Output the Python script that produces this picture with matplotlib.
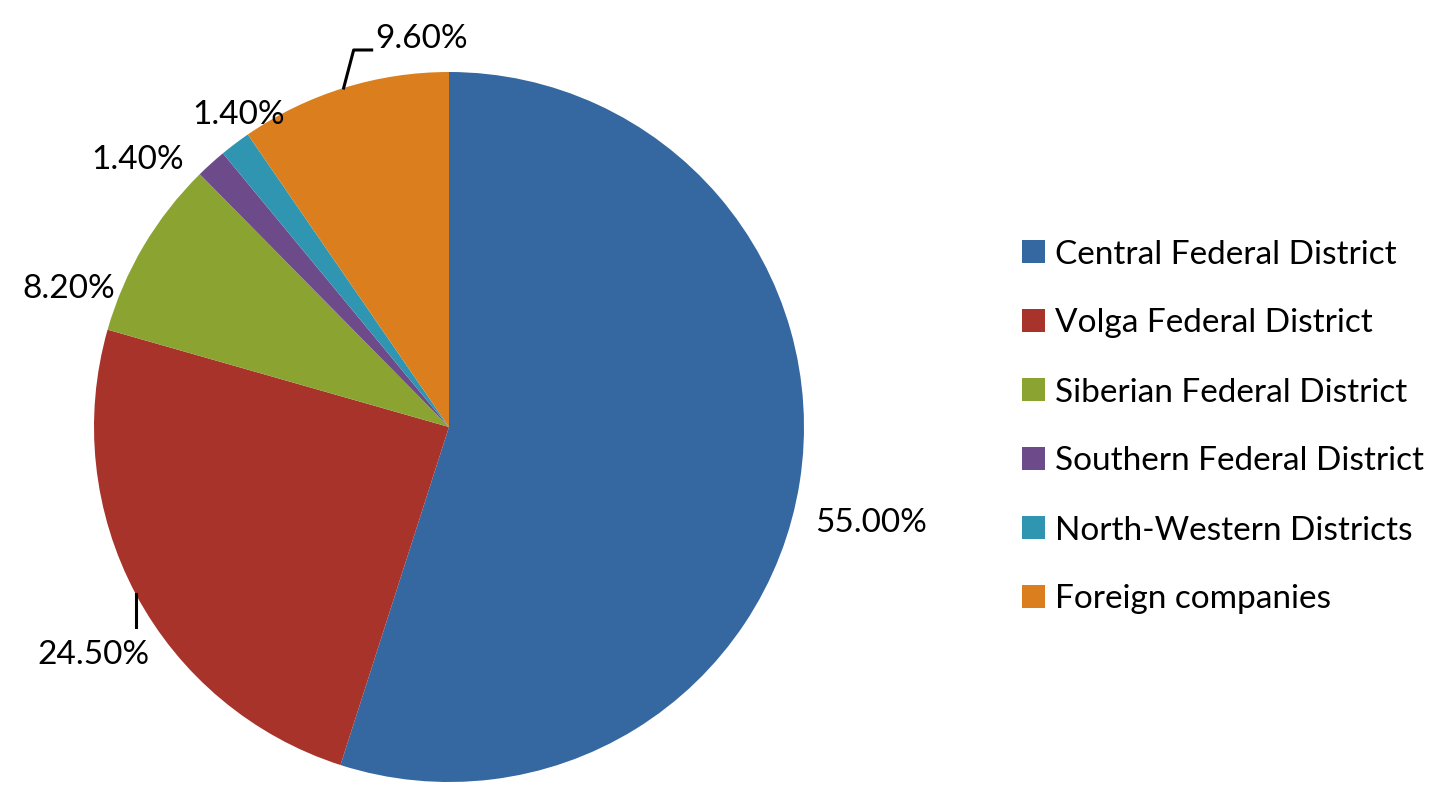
import numpy as np
import matplotlib
matplotlib.use('Agg')
import matplotlib.pyplot as plt
from matplotlib.patches import Patch

plt.rcParams['font.family'] = ['Lato', 'DejaVu Sans']

# ---------- data ----------
categories = ['Central Federal District', 'Volga Federal District',
              'Siberian Federal District', 'Southern Federal District',
              'North-Western Districts', 'Foreign companies']
shares = [55.0, 24.5, 8.2, 1.4, 1.4, 9.6]
labels = ['55.00%', '24.50%', '8.20%', '1.40%', '1.40%', '9.60%']
colors = ['#3567A1', '#A8332B', '#8BA431', '#6D4B8B', '#2F95B1', '#DB7F1E']

W, H = 1442, 798
cx, cy, R = 449, H - 427, 355

fig = plt.figure(figsize=(W / 100, H / 100), dpi=100)
ax = fig.add_axes([0, 0, 1, 1])

wedges, _ = ax.pie(shares, colors=colors, startangle=90, counterclock=False,
                   center=(cx, cy), radius=R, frame=True,
                   wedgeprops=dict(linewidth=0))
ax.set_xlim(0, W)
ax.set_ylim(0, H)
ax.set_aspect('equal')
ax.axis('off')

# label placement: (angle deg, distance as fraction of R)
label_pos = [(-12.8, 1.22), (212.6, 1.19), (160.0, 1.14),
             (139.4, 1.155), (124.0, 1.06), (94.0, 1.095)]
for (ang, d), txt in zip(label_pos, labels):
    a = np.deg2rad(ang)
    ax.text(cx + d * R * np.cos(a), cy + d * R * np.sin(a), txt,
            ha='center', va='center', fontsize=24, color='black')

# leader lines for Volga and Foreign slices
def mid_angle(w):
    return np.deg2rad((w.theta1 + w.theta2) / 2)

a = mid_angle(wedges[1])
x0, y0 = cx + R * np.cos(a), cy + R * np.sin(a)
ax.plot([x0, x0], [y0, y0 - 33], color='black', lw=2.2)

a = mid_angle(wedges[5])
x0, y0 = cx + R * np.cos(a), cy + R * np.sin(a)
ax.plot([x0, x0 + 10, x0 + 28], [y0, y0 + 38, y0 + 38], color='black', lw=2.2)

handles = [Patch(facecolor=c, edgecolor='none') for c in colors]
fig.legend(handles, categories, loc='center left', bbox_to_anchor=(1009 / W, 1 - 427 / H),
           frameon=False, fontsize=24, handlelength=0.67, handleheight=0.67,
           handletextpad=0.32, labelspacing=1.17, borderpad=0.4, borderaxespad=0)

fig.savefig('out.png', dpi=100)
